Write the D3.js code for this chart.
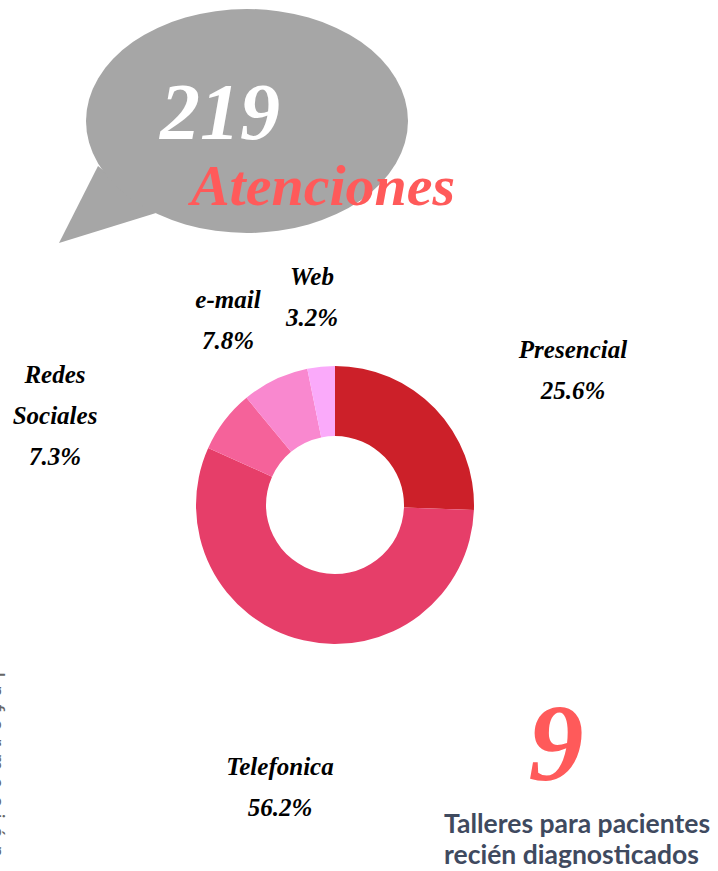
<!DOCTYPE html>
<html>
<head>
<meta charset="utf-8">
<script src="https://cdn.jsdelivr.net/npm/d3@7"></script>
<style>
  html, body { margin: 0; padding: 0; background: #fff; overflow: hidden; }
  svg { display: block; }
  .script { font-family: "Liberation Serif", "DejaVu Serif", serif; font-weight: bold; font-style: italic; }
</style>
</head>
<body>
<div id="chart"></div>
<script>
// canales de atención
const categories = ["Presencial", "Telefonica", "Redes Sociales", "e-mail", "Web"];
const values = [25.6, 56.2, 7.3, 7.8, 3.2];
const colors = ["#cc2029", "#e63e69", "#f5629a", "#f988cf", "#faaafa"];
const labelLines = [["Presencial"], ["Telefonica"], ["Redes", "Sociales"], ["e-mail"], ["Web"]];
const totalAtenciones = 219;
const talleres = 9;

const width = 718, height = 871;

const svg = d3.select("#chart").append("svg")
  .attr("width", width)
  .attr("height", height);

// speech bubble
const bubble = svg.append("g");
bubble.append("path")
  .attr("d", "M98,166 L59,243 L156,213 Z")
  .attr("fill", "#a6a6a6");
bubble.append("ellipse")
  .attr("cx", 247).attr("cy", 121)
  .attr("rx", 161).attr("ry", 112)
  .attr("fill", "#a6a6a6");

bubble.append("text")
  .attr("class", "script")
  .attr("x", 220).attr("y", 139)
  .attr("text-anchor", "middle")
  .attr("font-size", 80)
  .attr("fill", "#fff")
  .text(totalAtenciones);

bubble.append("text")
  .attr("class", "script")
  .attr("x", 323).attr("y", 205)
  .attr("text-anchor", "middle")
  .attr("font-size", 58)
  .attr("font-weight", "normal")
  .attr("fill", "#ff5a5a")
  .text("Atenciones");

// donut
const cx = 335, cy = 505;
const outerR = 139, innerR = 69;

const pie = d3.pie().sort(null).value(d => d)(values);
const arc = d3.arc().innerRadius(innerR).outerRadius(outerR);

const g = svg.append("g").attr("transform", `translate(${cx},${cy})`);
g.selectAll("path.slice")
  .data(pie)
  .enter()
  .append("path")
  .attr("class", "slice")
  .attr("d", arc)
  .attr("fill", (d, i) => colors[i]);

// label anchor positions (manual placement like the original)
const labelPos = [
  [573, 358],
  [280, 775],
  [55, 383],
  [228, 308],
  [312, 285]
];

categories.forEach((c, i) => {
  const lines = labelLines[i].concat([values[i].toFixed(1) + "%"]);
  const t = svg.append("text")
    .attr("class", "script")
    .attr("text-anchor", "middle")
    .attr("font-size", 25)
    .attr("fill", "#000");
  lines.forEach((ln, j) => {
    t.append("tspan")
      .attr("x", labelPos[i][0])
      .attr("y", labelPos[i][1] + j * 41)
      .text(ln);
  });
});

// talleres
svg.append("text")
  .attr("class", "script")
  .attr("x", 556).attr("y", 780)
  .attr("text-anchor", "middle")
  .attr("font-size", 110)
  .attr("font-weight", "normal")
  .attr("fill", "#ff5a5a")
  .text(talleres);

const tt = svg.append("text")
  .attr("font-family", "Lato, sans-serif")
  .attr("font-weight", "bold")
  .attr("font-size", 26.5)
  .attr("fill", "#3f4a5f");
tt.append("tspan").attr("x", 444).attr("y", 833).text("Talleres para pacientes");
tt.append("tspan").attr("x", 444).attr("y", 864).text("recién diagnosticados");

// texto vertical recortado en el borde izquierdo (como en el original)
svg.append("text")
  .attr("transform", "translate(-9,672) rotate(90)")
  .attr("font-family", "Lato, sans-serif")
  .attr("font-size", 20)
  .attr("letter-spacing", 8)
  .attr("fill", "#666")
  .text("Información");
</script>
</body>
</html>
